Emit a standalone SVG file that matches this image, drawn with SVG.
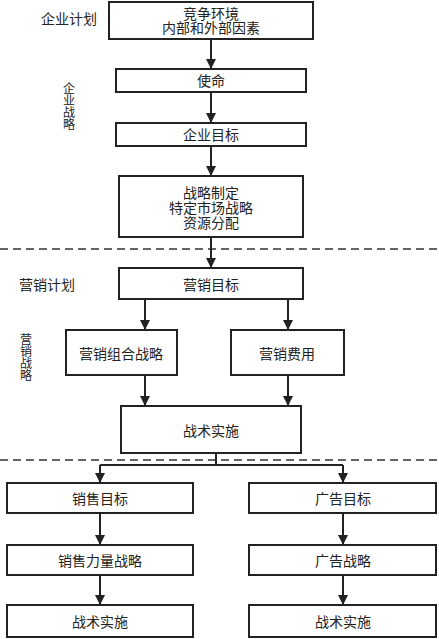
<svg xmlns="http://www.w3.org/2000/svg" width="439" height="639" viewBox="0 0 439 639">
<style>
.box{fill:#fff;stroke:#222;stroke-width:2}
.t{font-family:"Noto Sans CJK SC","Noto Sans",sans-serif;font-size:14px;fill:#222;text-anchor:middle;dominant-baseline:central}
.lab{font-family:"Noto Sans CJK SC","Noto Sans",sans-serif;font-size:14px;fill:#222;text-anchor:middle;dominant-baseline:central}
.vl{font-family:"Noto Sans CJK SC","Noto Sans",sans-serif;font-size:12px;fill:#222;writing-mode:vertical-rl;text-anchor:start}
.c{stroke:#222;stroke-width:2;fill:none}
.d{stroke:#333;stroke-width:1.5;stroke-dasharray:8 5;fill:none}
</style>
<defs>
<marker id="ah" viewBox="0 0 10 10" refX="10" refY="5" markerWidth="5" markerHeight="5" markerUnits="strokeWidth" orient="auto">
<path d="M0,0 L10,5 L0,10 Z" fill="#222"/>
</marker>
</defs>
<rect width="439" height="639" fill="#fff"/>
<g id="labels">
<text class="lab" x="69" y="18">企业计划</text>
<text class="vl" x="69" y="82">企业战略</text>
<text class="lab" x="47" y="284">营销计划</text>
<text class="vl" x="26" y="333">营销战略</text>
</g>
<g id="dividers">
<line class="d" x1="0" y1="249" x2="439" y2="249"/>
<line class="d" x1="0" y1="460" x2="439" y2="460"/>
</g>
<g id="connectors">
<line class="c" x1="211" y1="39" x2="211" y2="69" marker-end="url(#ah)"/>
<line class="c" x1="211" y1="92" x2="211" y2="123" marker-end="url(#ah)"/>
<line class="c" x1="211" y1="146" x2="211" y2="176" marker-end="url(#ah)"/>
<line class="c" x1="211" y1="237" x2="211" y2="268" marker-end="url(#ah)"/>
<line class="c" x1="145" y1="299" x2="145" y2="330" marker-end="url(#ah)"/>
<line class="c" x1="288" y1="299" x2="288" y2="330" marker-end="url(#ah)"/>
<line class="c" x1="145" y1="375" x2="145" y2="406" marker-end="url(#ah)"/>
<line class="c" x1="288" y1="375" x2="288" y2="406" marker-end="url(#ah)"/>
<polyline class="c" points="216,453 216,465"/>
<polyline class="c" points="100,465 343,465"/>
<line class="c" x1="100" y1="465" x2="100" y2="483" marker-end="url(#ah)"/>
<line class="c" x1="343" y1="465" x2="343" y2="483" marker-end="url(#ah)"/>
<line class="c" x1="100" y1="513" x2="100" y2="545" marker-end="url(#ah)"/>
<line class="c" x1="343" y1="513" x2="343" y2="545" marker-end="url(#ah)"/>
<line class="c" x1="100" y1="575" x2="100" y2="605" marker-end="url(#ah)"/>
<line class="c" x1="343" y1="575" x2="343" y2="605" marker-end="url(#ah)"/>
</g>
<g id="n1"><rect class="box" x="109" y="2" width="204" height="37"/><text class="t" x="211" y="13">竞争环境<tspan x="211" dy="14">内部和外部因素</tspan></text></g>
<g id="n2"><rect class="box" x="116" y="69" width="190" height="23"/><text class="t" x="211" y="80">使命</text></g>
<g id="n3"><rect class="box" x="116" y="123" width="190" height="23"/><text class="t" x="211" y="134">企业目标</text></g>
<g id="n4"><rect class="box" x="119" y="176" width="184" height="61"/><text class="t" x="211" y="192">战略制定<tspan x="211" dy="15">特定市场战略</tspan><tspan x="211" dy="15">资源分配</tspan></text></g>
<g id="n5"><rect class="box" x="119" y="268" width="184" height="31"/><text class="t" x="211" y="284">营销目标</text></g>
<g id="n6"><rect class="box" x="66" y="330" width="111" height="45"/><text class="t" x="121" y="353">营销组合战略</text></g>
<g id="n7"><rect class="box" x="231" y="330" width="113" height="45"/><text class="t" x="287" y="353">营销费用</text></g>
<g id="n8"><rect class="box" x="121" y="406" width="180" height="47"/><text class="t" x="211" y="430">战术实施</text></g>
<g id="n9"><rect class="box" x="7" y="483" width="186" height="30"/><text class="t" x="100" y="498">销售目标</text></g>
<g id="n10"><rect class="box" x="249" y="483" width="187" height="30"/><text class="t" x="343" y="498">广告目标</text></g>
<g id="n11"><rect class="box" x="7" y="545" width="186" height="30"/><text class="t" x="100" y="560">销售力量战略</text></g>
<g id="n12"><rect class="box" x="249" y="545" width="187" height="30"/><text class="t" x="343" y="560">广告战略</text></g>
<g id="n13"><rect class="box" x="7" y="605" width="186" height="32"/><text class="t" x="100" y="621">战术实施</text></g>
<g id="n14"><rect class="box" x="249" y="605" width="187" height="32"/><text class="t" x="343" y="621">战术实施</text></g>
</svg>
